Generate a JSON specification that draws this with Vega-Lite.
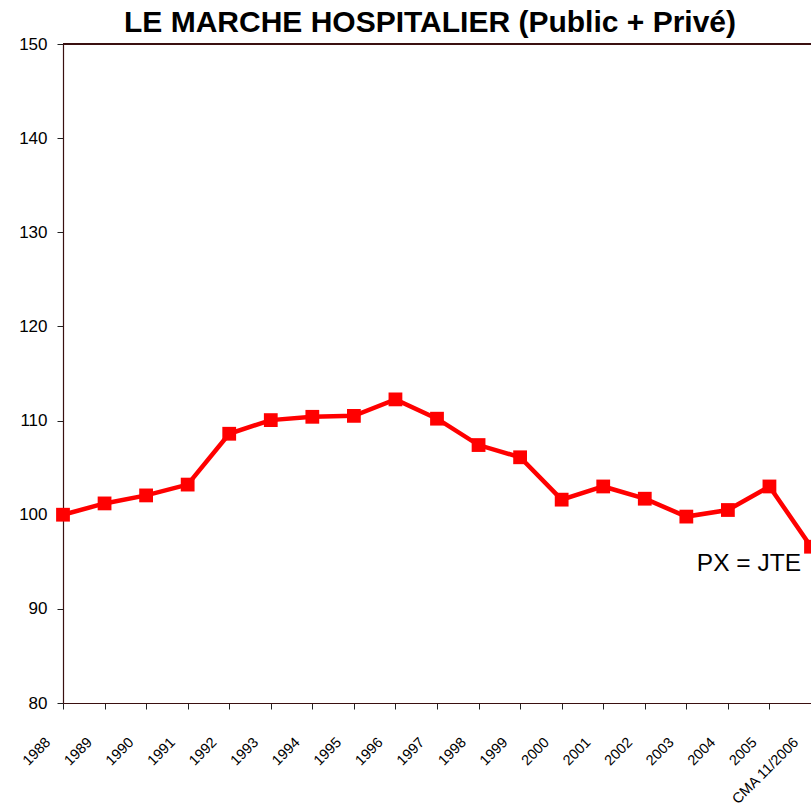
{
  "$schema": "https://vega.github.io/schema/vega-lite/v6.json",
  "autosize": {"type": "none"},
  "width": 748,
  "height": 659,
  "padding": {"left": 63, "top": 44, "right": 0, "bottom": 109},
  "background": "white",
  "title": {
    "text": "LE MARCHE HOSPITALIER (Public + Privé)",
    "font": "Liberation Sans",
    "fontSize": 30,
    "fontWeight": "bold",
    "color": "black",
    "anchor": "middle",
    "dx": -7,
    "offset": -3
  },
  "config": {
    "view": {"stroke": null},
    "font": "Liberation Sans"
  },
  "data": {
    "values": [
      {"annee": "1988", "indice": 100.0},
      {"annee": "1989", "indice": 101.2},
      {"annee": "1990", "indice": 102.05},
      {"annee": "1991", "indice": 103.2},
      {"annee": "1992", "indice": 108.6},
      {"annee": "1993", "indice": 110.05},
      {"annee": "1994", "indice": 110.4},
      {"annee": "1995", "indice": 110.5},
      {"annee": "1996", "indice": 112.25},
      {"annee": "1997", "indice": 110.2},
      {"annee": "1998", "indice": 107.4},
      {"annee": "1999", "indice": 106.1},
      {"annee": "2000", "indice": 101.6},
      {"annee": "2001", "indice": 103.0},
      {"annee": "2002", "indice": 101.7},
      {"annee": "2003", "indice": 99.8},
      {"annee": "2004", "indice": 100.5},
      {"annee": "2005", "indice": 103.0},
      {"annee": "CMA 11/2006", "indice": 96.6}
    ]
  },
  "encoding": {
    "x": {
      "field": "annee",
      "type": "ordinal",
      "sort": null,
      "scale": {"type": "point", "padding": 0},
      "axis": {
        "title": null,
        "labelAngle": -45,
        "labelAlign": "right",
        "labelBaseline": "middle",
        "labelOffset": -15,
        "labelPadding": 31,
        "labelFont": "Liberation Sans",
        "labelFontSize": 14.5,
        "labelColor": "black",
        "tickSize": 6,
        "tickColor": "#222222",
        "domainColor": "#3a1010",
        "domainWidth": 1.2,
        "grid": false
      }
    },
    "y": {
      "field": "indice",
      "type": "quantitative",
      "scale": {"domain": [80, 150], "nice": false, "zero": false},
      "axis": {
        "title": null,
        "values": [80, 90, 100, 110, 120, 130, 140, 150],
        "labelFont": "Liberation Sans",
        "labelFontSize": 17,
        "labelColor": "black",
        "labelPadding": 10,
        "tickSize": 6,
        "tickColor": "#222222",
        "domainColor": "#3a1010",
        "domainWidth": 1.2,
        "grid": false
      }
    }
  },
  "layer": [
    {
      "mark": {"type": "rule", "color": "#3a1010", "strokeWidth": 1.2},
      "encoding": {"y": {"datum": 150}, "x": {"value": 0}, "x2": {"value": 748}}
    },
    {
      "mark": {"type": "line", "color": "#ff0000", "strokeWidth": 4.5, "clip": false},
      "encoding": {}
    },
    {
      "mark": {"type": "point", "shape": "square", "filled": true, "color": "#ff0000", "size": 190, "opacity": 1, "clip": false},
      "encoding": {}
    },
    {
      "data": {"values": [{"annee": "CMA 11/2006", "indice": 94.8, "etiquette": "PX = JTE"}]},
      "mark": {"type": "text", "align": "right", "baseline": "middle", "dx": -10, "fontSize": 24.5, "font": "Liberation Sans", "color": "black"},
      "encoding": {"text": {"field": "etiquette"}}
    }
  ]
}
